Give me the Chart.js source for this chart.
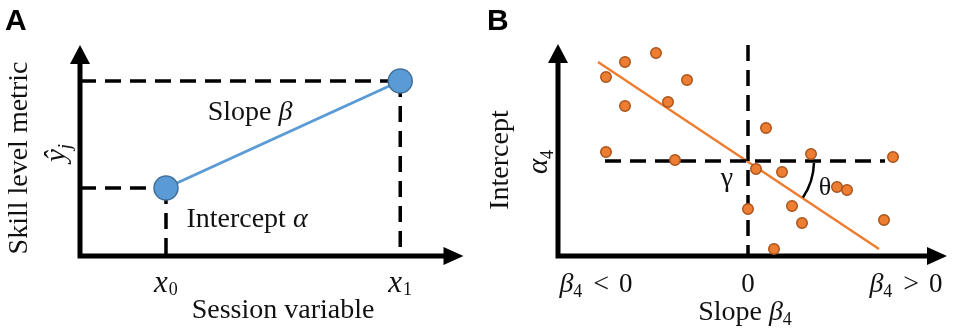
<!DOCTYPE html>
<html>
<head>
<meta charset="utf-8">
<script src="https://cdn.jsdelivr.net/npm/chart.js@4.4.0/dist/chart.umd.min.js"></script>
<style>
  html, body { margin: 0; padding: 0; background: #fff; }
  #wrap { position: relative; width: 955px; height: 334px; overflow: hidden; }
  canvas { position: absolute; top: 0; }
</style>
</head>
<body>
<div id="wrap">
  <canvas id="chartA" width="477" height="334" style="left:0"></canvas>
  <canvas id="chartB" width="478" height="334" style="left:477px"></canvas>
</div>
<script>
// ---- panel A: two sessions, skill metric ----
const aSession = [0.87, 3.24];          // x0, x1
const aSkill = [0.68, 1.75];            // y at x0, y at x1
const aTickSubs = ['0', '1'];           // x_0, x_1

// ---- panel B: slope vs intercept scatter ----
const bSlope = [-1.42, -1.23, -0.92, -0.61, -1.23, -0.80, -1.42, -0.73, 0.18, 0.63,
                1.45, 0.08, 0.34, 0.89, 0.99, 0.44, 0.00, 0.54, 1.36, 0.26];
const bIntercept = [0.84, 0.99, 1.08, 0.81, 0.55, 0.59, 0.09, 0.01, 0.33, 0.07,
                    0.04, -0.08, -0.11, -0.26, -0.29, -0.45, -0.48, -0.62, -0.59, -0.88];
const bFitSlope = [-1.50, 1.31];
const bFitIntercept = [0.99, -0.88];
const bGuideH = [-1.43, 1.37];          // horizontal dashed line at intercept 0
const bGuideV = [1.16, -0.95];          // vertical dashed line at slope 0
const bTickValues = [-1.52, 0, 1.58];   // where "β4<0", "0", "β4>0" sit

const SERIF = '"Liberation Serif", "Times New Roman", serif';
const f = (size, italic) => (italic ? 'italic ' : '') + size + 'px ' + SERIF;
const INK = '#111';

// runs: [text, font, dy, extra gap after]
function drawRuns(ctx, x, y, runs, align) {
  let w = 0;
  runs.forEach(r => { ctx.font = r[1]; w += ctx.measureText(r[0]).width + (r[3] || 0); });
  let cx = align === 'center' ? x - w / 2 : x;
  ctx.textAlign = 'left';
  ctx.textBaseline = 'alphabetic';
  runs.forEach(r => {
    ctx.font = r[1];
    ctx.fillText(r[0], cx, y + (r[2] || 0));
    cx += ctx.measureText(r[0]).width + (r[3] || 0);
  });
}

function drawRotated(ctx, x, y, runs) {
  ctx.save();
  ctx.translate(x, y);
  ctx.rotate(-Math.PI / 2);
  drawRuns(ctx, 0, 0, runs, 'center');
  ctx.restore();
}

function drawAxes(ctx, area) {
  ctx.save();
  ctx.fillStyle = '#000';
  ctx.strokeStyle = '#000';
  ctx.lineWidth = 5;
  ctx.lineJoin = 'miter';
  ctx.beginPath();
  ctx.moveTo(area.left, area.top + 14);
  ctx.lineTo(area.left, area.bottom);
  ctx.lineTo(area.right - 16, area.bottom);
  ctx.stroke();
  ctx.beginPath();
  ctx.moveTo(area.left, area.top - 1);
  ctx.lineTo(area.left - 10, area.top + 18);
  ctx.lineTo(area.left + 10, area.top + 18);
  ctx.closePath();
  ctx.fill();
  ctx.beginPath();
  ctx.moveTo(area.right, area.bottom);
  ctx.lineTo(area.right - 20, area.bottom - 9);
  ctx.lineTo(area.right - 20, area.bottom + 9);
  ctx.closePath();
  ctx.fill();
  ctx.restore();
}

const dashed = (data, order) => ({
  data: data,
  showLine: true,
  borderColor: '#000',
  borderWidth: 3.5,
  borderDash: [16, 9],
  pointRadius: 0,
  clip: false,
  order: order
});

const baseOptions = (pad, xr, yr) => ({
  responsive: false,
  animation: false,
  events: [],
  layout: { padding: pad },
  plugins: { legend: { display: false }, tooltip: { enabled: false } },
  scales: {
    x: { type: 'linear', min: xr[0], max: xr[1], display: false },
    y: { type: 'linear', min: yr[0], max: yr[1], display: false }
  }
});

// ---------- chart A ----------
const panelA = {
  id: 'panelA',
  beforeDatasetsDraw(chart) { drawAxes(chart.ctx, chart.chartArea); },
  afterDraw(chart) {
    const ctx = chart.ctx;
    const xs = chart.scales.x;
    ctx.save();
    ctx.fillStyle = '#000';
    ctx.font = 'bold 30px "Liberation Sans", Arial, sans-serif';
    ctx.textAlign = 'left';
    ctx.fillText('A', 5, 30);
    ctx.fillStyle = INK;
    drawRotated(ctx, 27, 158, [['Skill level metric', f(28)]]);
    drawRotated(ctx, 65, 153, [['ŷ', f(29, true)], ['j', f(19, true), 6]]);
    drawRuns(ctx, 250, 120, [['Slope ', f(28)], ['β', f(28, true)]], 'center');
    drawRuns(ctx, 247, 227, [['Intercept ', f(28)], ['α', f(28, true)]], 'center');
    aSession.forEach((v, i) => {
      drawRuns(ctx, xs.getPixelForValue(v), 292, [['x', f(31, true), 0, 1], [aTickSubs[i], f(18), 3]], 'center');
    });
    drawRuns(ctx, 283, 318, [['Session variable', f(28)]], 'center');
    ctx.restore();
  }
};

new Chart(document.getElementById('chartA'), {
  type: 'scatter',
  data: {
    datasets: [
      {
        data: aSession.map((v, i) => ({ x: v, y: aSkill[i] })),
        showLine: true,
        borderColor: '#5b9bd5',
        borderWidth: 3,
        pointRadius: 12,
        pointBackgroundColor: '#5b9bd5',
        pointBorderColor: '#41719c',
        pointBorderWidth: 1.5,
        clip: false,
        order: 0
      },
      dashed([{ x: 0, y: aSkill[0] }, { x: aSession[0], y: aSkill[0] }], 1),
      dashed([{ x: 0, y: aSkill[1] }, { x: aSession[1], y: aSkill[1] }], 1),
      dashed([{ x: aSession[0], y: aSkill[0] }, { x: aSession[0], y: 0 }], 1),
      dashed([{ x: aSession[1], y: aSkill[1] }, { x: aSession[1], y: 0 }], 1)
    ]
  },
  options: baseOptions({ left: 80, top: 46, right: 9, bottom: 78 }, [0, 3.88], [0, 2.10]),
  plugins: [panelA]
});

// ---------- chart B ----------
const panelB = {
  id: 'panelB',
  beforeDatasetsDraw(chart) { drawAxes(chart.ctx, chart.chartArea); },
  afterDatasetsDraw(chart) {
    // theta arc between the fit line and the zero-intercept guide
    const ctx = chart.ctx;
    const xs = chart.scales.x, ys = chart.scales.y;
    const cx = xs.getPixelForValue(0), cy = ys.getPixelForValue(0);
    const ang = Math.atan2(ys.getPixelForValue(bFitIntercept[1]) - ys.getPixelForValue(bFitIntercept[0]),
                           xs.getPixelForValue(bFitSlope[1]) - xs.getPixelForValue(bFitSlope[0]));
    ctx.save();
    ctx.strokeStyle = '#000';
    ctx.lineWidth = 2.5;
    ctx.beginPath();
    ctx.arc(cx, cy, 66, 0.03, ang);
    ctx.stroke();
    ctx.restore();
  },
  afterDraw(chart) {
    const ctx = chart.ctx;
    const xs = chart.scales.x;
    ctx.save();
    ctx.fillStyle = '#000';
    ctx.font = 'bold 30px "Liberation Sans", Arial, sans-serif';
    ctx.textAlign = 'left';
    ctx.fillText('B', 10, 30);
    ctx.fillStyle = INK;
    drawRotated(ctx, 31, 160, [['Intercept', f(28)]]);
    drawRotated(ctx, 70, 162, [['α', f(29, true)], ['4', f(18), 6]]);
    drawRuns(ctx, 250, 186, [['γ', f(28)]], 'center');
    drawRuns(ctx, 348, 195, [['θ', f(26)]], 'center');
    const tickRuns = [
      [['β', f(28, true)], ['4', f(18), 5, 11], ['<', f(28), 0, 10], ['0', f(27)]],
      [['0', f(27)]],
      [['β', f(28, true)], ['4', f(18), 5, 11], ['>', f(28), 0, 10], ['0', f(27)]]
    ];
    bTickValues.forEach((v, i) => drawRuns(ctx, xs.getPixelForValue(v), 292, tickRuns[i], 'center'));
    drawRuns(ctx, 268, 320, [['Slope ', f(28)], ['β', f(28, true)], ['4', f(18), 5]], 'center');
    ctx.restore();
  }
};

new Chart(document.getElementById('chartB'), {
  type: 'scatter',
  data: {
    datasets: [
      {
        data: bSlope.map((v, i) => ({ x: v, y: bIntercept[i] })),
        pointRadius: 5.3,
        pointBackgroundColor: '#ed7d31',
        pointBorderColor: '#a9531b',
        pointBorderWidth: 1.4,
        clip: false,
        order: 0
      },
      dashed([{ x: bGuideH[0], y: 0 }, { x: bGuideH[1], y: 0 }], 1),
      dashed([{ x: 0, y: bGuideV[0] }, { x: 0, y: bGuideV[1] }], 1),
      {
        data: bFitSlope.map((v, i) => ({ x: v, y: bFitIntercept[i] })),
        showLine: true,
        borderColor: '#ed7d31',
        borderWidth: 2.5,
        pointRadius: 0,
        clip: false,
        order: 2
      }
    ]
  },
  options: baseOptions({ left: 81, top: 45, right: 8, bottom: 78 }, [-1.90, 1.99], [-0.95, 1.16]),
  plugins: [panelB]
});
</script>
</body>
</html>
